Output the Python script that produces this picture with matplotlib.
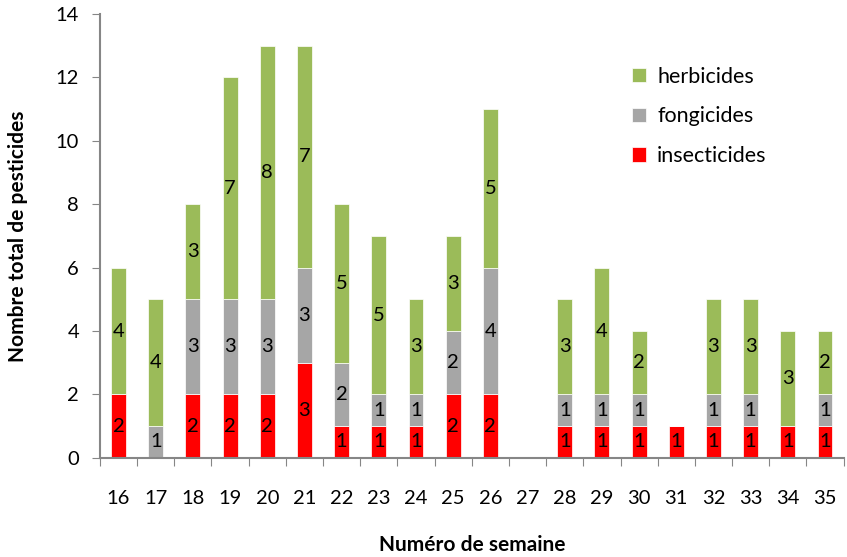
import matplotlib.pyplot as plt
import numpy as np

plt.rcParams['font.family'] = ['Lato', 'DejaVu Sans']

weeks = [str(w) for w in range(16, 36)]
insecticides = [2, 0, 2, 2, 2, 3, 1, 1, 1, 2, 2, 0, 1, 1, 1, 1, 1, 1, 1, 1]
fongicides = [0, 1, 3, 3, 3, 3, 2, 1, 1, 2, 4, 0, 1, 1, 1, 0, 1, 1, 0, 1]
herbicides = [4, 4, 3, 7, 8, 7, 5, 5, 3, 3, 5, 0, 3, 4, 2, 0, 3, 3, 3, 2]

series = [
    ("insecticides", insecticides, "#FF0000"),
    ("fongicides", fongicides, "#A6A6A6"),
    ("herbicides", herbicides, "#9BBB59"),
]

fig = plt.figure(figsize=(8.47, 5.57), dpi=100)
ax = fig.add_axes([0.118, 0.178, 0.878, 0.797])

x = np.arange(len(weeks))
bottom = np.zeros(len(weeks))
handles = []
for name, vals, color in series:
    vals = np.array(vals)
    bars = ax.bar(x, vals, width=0.4, bottom=bottom, color=color,
                  edgecolor="white", linewidth=0.5, label=name)
    handles.append(bars)
    for xi, b, v in zip(x, bottom, vals):
        if v > 0:
            ax.text(xi, b + v / 2, str(v), ha="center", va="center",
                    fontsize=14.5, color="black")
    bottom += vals

ax.set_xlim(-0.5, len(weeks) - 0.5)
ax.set_ylim(0, 14)
ax.set_yticks(range(0, 15, 2))
ax.tick_params(axis="y", labelsize=14.5, direction="out", length=6,
               color="#868686", pad=9)

# ticks sit between the weeks, labels at the centres
ax.set_xticks(np.arange(-0.5, len(weeks), 1))
ax.set_xticklabels([])
ax.set_xticks(x, minor=True)
ax.set_xticklabels(weeks, minor=True, fontsize=14.5)
ax.tick_params(axis="x", which="major", direction="out", length=6,
               color="#868686")
ax.tick_params(axis="x", which="minor", length=0, pad=23)

for side in ("top", "right"):
    ax.spines[side].set_visible(False)
for side in ("left", "bottom"):
    ax.spines[side].set_color("#868686")
    ax.spines[side].set_linewidth(1.5)

ax.set_xlabel("Numéro de semaine", fontsize=15, fontweight="bold", labelpad=20)
ax.set_ylabel("Nombre total de pesticides", fontsize=15, fontweight="bold",
              labelpad=20)

ax.legend(handles=handles[::-1], loc="upper left", bbox_to_anchor=(0.69, 0.925),
          frameon=False, fontsize=15.5, handlelength=0.65, handleheight=0.65,
          labelspacing=0.92, handletextpad=0.5)

fig.savefig("out.png", dpi=100)
